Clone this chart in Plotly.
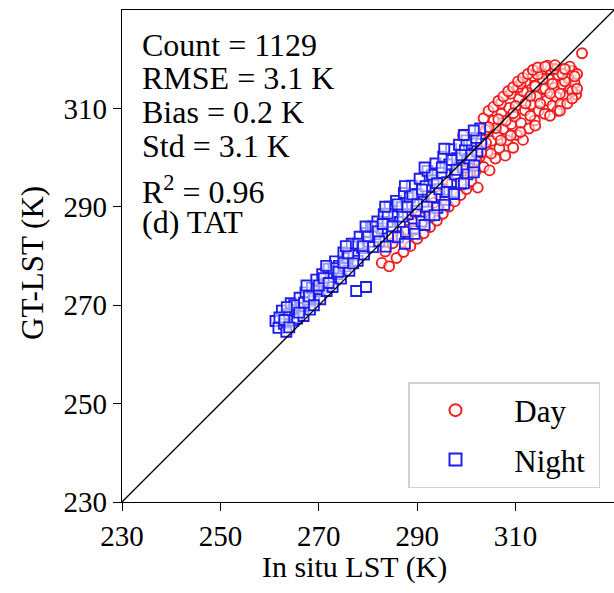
import plotly.graph_objects as go

# ---------------- data ----------------
day_x = [282.8, 283.5, 284.3, 285.0, 285.8, 286.5, 287.2, 288.0, 288.6, 289.3,
         290.0, 290.6, 291.3, 292.0, 292.6, 293.3, 294.0, 294.6, 295.2, 295.8,
         296.4, 297.0, 297.6, 298.2, 298.8, 299.3, 299.5, 300.0, 300.5, 301.0,
         301.5, 301.9, 302.3, 302.7, 303.1, 303.5, 303.9, 304.3, 304.7, 305.1,
         305.5, 305.9, 306.3, 306.7, 307.1, 307.5, 307.9, 308.3, 308.7, 309.1,
         309.5, 309.9, 310.3, 310.7, 311.1, 311.5, 311.9, 312.3, 312.7, 313.1,
         313.5, 313.9, 314.3, 314.7, 315.1, 315.5, 315.9, 316.3, 316.7, 317.1,
         317.5, 317.9, 318.3, 318.7, 319.1, 319.5, 319.9, 320.3, 320.7, 321.1,
         321.6, 322.0, 322.3, 323.5,
         300.8, 302.0, 303.0, 304.0, 305.0, 306.0, 307.0, 308.0, 309.0, 310.0,
         311.0, 312.0, 313.0, 314.0, 315.0, 316.0, 317.0, 318.0, 319.0, 320.0,
         321.0, 309.5, 311.5, 313.0, 315.5, 317.5, 319.5, 306.5, 304.5, 312.0,
         310.5, 316.5, 314.5, 309.0, 307.0, 311.0, 314.0, 318.5, 321.5, 322.5,
         303.5, 304.5, 305.5, 306.5, 307.5, 308.5, 309.5, 310.5, 311.5, 312.5,
         313.5, 314.5, 316.0, 318.0, 320.0, 322.0, 320.5, 321.5, 322.5, 319.0,
         317.0]
day_y = [278.6, 280.9, 277.9, 282.6, 279.6, 284.1, 280.8, 285.3, 282.0, 287.0,
         283.5, 288.2, 284.6, 289.4, 285.9, 290.8, 287.2, 292.3, 288.6, 293.4,
         290.0, 294.8, 291.1, 296.1, 292.4, 304.5, 297.3, 293.6, 299.0, 295.2,
         301.8, 297.3, 293.9, 300.1, 303.6, 298.1, 305.6, 301.2, 297.4, 303.4,
         307.5, 299.8, 304.6, 301.9, 308.9, 305.8, 300.4, 303.5, 310.1, 306.8,
         302.0, 308.3, 304.6, 311.9, 307.0, 303.6, 309.6, 313.2, 305.9, 310.8,
         316.6, 307.6, 312.4, 309.5, 317.2, 313.9, 308.9, 311.6, 316.0, 317.9,
         310.6, 314.2, 312.3, 316.8, 310.9, 314.9, 318.0, 312.6, 316.1, 314.0,
         317.6, 315.1, 312.8, 321.2,
         297.0, 299.5, 301.0, 303.0, 300.8, 306.0, 303.5, 307.5, 304.5, 310.5,
         305.2, 311.0, 308.5, 314.5, 311.0, 314.0, 313.0, 318.0, 313.0, 315.5,
         318.5, 309.0, 313.5, 312.5, 316.0, 315.0, 317.0, 307.8, 306.2, 315.5,
         314.3, 318.7, 316.9, 313.0, 311.0, 315.0, 306.5, 309.5, 313.5, 317.0,
         308.0, 309.5, 310.3, 311.5, 312.4, 313.5, 314.3, 315.5, 316.2, 317.0,
         317.8, 318.3, 318.5, 318.8, 318.0, 316.5, 311.0, 312.0, 314.0, 309.5,
         308.5]

night_x = [261.2, 261.8, 262.5, 262.9, 263.4, 263.9, 264.3, 264.8, 265.2, 265.6,
           266.1, 266.5, 266.9, 267.3, 267.8, 268.2, 268.6, 269.0, 269.5, 269.9,
           270.3, 270.7, 271.1, 271.6, 272.0, 272.4, 272.8, 273.3, 273.7, 274.1,
           274.5, 275.0, 275.4, 275.8, 276.2, 276.7, 277.1, 277.6, 277.9, 278.3,
           278.8, 279.2, 279.6, 279.8, 280.2, 280.6, 281.0, 281.5, 281.9, 282.3,
           282.8, 283.2, 283.6, 284.0, 284.4, 284.9, 285.3, 285.7, 286.1, 286.5,
           286.9, 287.3, 287.7, 288.1, 288.5, 288.9, 289.3, 289.7, 290.1, 290.5,
           290.9, 291.3, 291.7, 292.1, 292.5, 292.9, 293.3, 293.7, 294.1, 294.5,
           294.9, 295.3, 295.7, 296.1, 296.5, 296.9, 297.3, 297.7, 298.1, 298.5,
           298.9, 299.3, 299.7, 300.2, 300.6, 301.1, 301.6, 302.2, 302.8, 303.0,
           262.0, 263.0, 264.0, 265.0, 266.0, 267.0, 268.0, 269.0, 270.0, 271.0,
           272.0, 273.0, 274.0, 275.0, 276.0, 277.0, 278.0, 279.0, 280.0, 281.0,
           282.0, 283.0, 284.0, 285.0, 286.0, 287.0, 288.0, 289.0, 290.0, 291.0,
           292.0, 293.0, 294.0, 295.0, 296.0, 297.0, 298.0, 299.0, 300.0, 301.0,
           302.0,
           287.5, 289.5, 291.5, 293.5, 295.5, 297.5, 299.5, 301.5,
           263.5, 267.5, 271.5, 275.5, 279.5, 283.5, 287.5, 291.5, 295.5, 299.5,
           301.5]
night_y = [266.8, 265.4, 268.9, 266.2, 264.6, 268.1, 270.4, 266.9, 269.0, 267.3,
           271.5, 269.4, 267.8, 272.6, 270.7, 269.1, 273.5, 271.4, 275.2, 272.8,
           271.2, 276.3, 274.0, 272.9, 277.4, 275.6, 273.7, 278.9, 276.3, 278.0,
           275.4, 280.7, 277.9, 279.6, 277.0, 282.5, 280.1, 272.9, 279.0, 283.9,
           281.6, 280.3, 273.7, 284.7, 282.9, 285.9, 281.8, 284.4, 287.0, 283.0,
           285.6, 288.5, 281.9, 286.9, 290.0, 284.1, 288.1, 291.2, 283.8, 286.9,
           289.9, 292.8, 284.9, 288.5, 291.9, 294.3, 285.6, 289.2, 292.6, 295.7,
           287.0, 291.0, 294.2, 297.3, 288.2, 292.0, 295.4, 298.8, 289.8, 293.6,
           296.9, 300.2, 291.4, 295.0, 298.6, 301.7, 293.0, 296.6, 299.9, 302.6,
           294.7, 298.0, 301.5, 296.6, 299.8, 302.9, 298.4, 301.3, 305.9, 302.8,
           267.5, 267.0, 265.5, 270.0, 268.5, 270.5, 271.8, 270.0, 274.0, 275.5,
           274.5, 277.5, 276.8, 278.6, 280.5, 278.5, 282.5, 282.0, 284.0, 286.0,
           285.0, 286.5, 288.6, 286.0, 290.5, 288.0, 290.0, 292.5, 290.5, 293.5,
           290.0, 296.5, 294.8, 298.0, 293.0, 299.5, 297.5, 300.5, 303.5, 300.5,
           304.0,
           282.5, 284.5, 286.3, 288.3, 290.4, 292.6, 294.8, 297.0,
           269.6, 274.0, 278.0, 282.0, 286.0, 290.0, 294.2, 298.0, 301.8, 304.6,
           305.5]

one_to_one = [230, 330]
tick_vals = [230, 250, 270, 290, 310]
stats_lines = ["Count = 1129", "RMSE = 3.1 K", "Bias = 0.2 K", "Std = 3.1 K",
               "R<sup>2</sup> = 0.96", "(d) TAT"]
legend_names = ["Day", "Night"]

# ---------------- layout geometry ----------------
W, H = 614, 593
ML, MR, MT, MB = 122, 0, 10, 91
PH = H - MT - MB
PW = W - ML - MR
FONT = "Liberation Serif, Times New Roman, serif"
PAD = "\u00a0" * 5
TAIL = "\u00a0"


def py2paper(py):
    return (H - MB - py) / PH


def px2paper(px):
    return (px - ML) / PW


fig = go.Figure()
fig.add_trace(go.Scatter(
    x=day_x, y=day_y, mode="markers", name=PAD + legend_names[0] + TAIL,
    legendgroup="day",
    marker=dict(symbol="circle", size=10, color="rgba(255,255,255,0.55)",
                line=dict(color="rgb(240,30,30)", width=1.9)),
))
fig.add_trace(go.Scatter(
    x=night_x, y=night_y, mode="markers", name=PAD + legend_names[1] + TAIL,
    legendgroup="night",
    marker=dict(symbol="square", size=10, color="rgba(255,255,255,0.55)",
                line=dict(color="rgb(30,30,235)", width=1.9)),
))
fig.add_trace(go.Scatter(
    x=one_to_one, y=one_to_one, mode="lines", showlegend=False,
    line=dict(color="black", width=1.3), hoverinfo="skip",
))

axis_common = dict(
    range=[230, 330], tickvals=tick_vals, ticks="outside", ticklen=8,
    tickwidth=1.3, tickcolor="black", showline=True, linecolor="black",
    linewidth=1.3, mirror=True, showgrid=False, zeroline=False,
    tickfont=dict(family=FONT, size=29, color="black"),
)
fig.update_xaxes(**axis_common)
fig.update_yaxes(**axis_common)

annotations = []
text_centers = [45, 78, 112, 146, 190, 222]
for txt, cy in zip(stats_lines, text_centers):
    annotations.append(dict(
        text=txt, xref="paper", yref="paper", x=px2paper(140), y=py2paper(cy),
        xanchor="left", yanchor="middle", showarrow=False,
        font=dict(family=FONT, size=32, color="black"),
    ))
annotations.append(dict(
    text="In situ LST (K)", xref="paper", yref="paper",
    x=px2paper(354), y=py2paper(567), xanchor="center", yanchor="middle",
    showarrow=False, font=dict(family=FONT, size=30, color="black"),
))
annotations.append(dict(
    text="GT-LST (K)", xref="paper", yref="paper", textangle=-90,
    x=px2paper(32), y=py2paper(263), xanchor="center", yanchor="middle",
    showarrow=False, font=dict(family=FONT, size=31, color="black"),
))

fig.update_layout(
    width=W, height=H,
    margin=dict(l=ML, r=MR, t=MT, b=MB),
    paper_bgcolor="white", plot_bgcolor="white",
    font=dict(family=FONT, color="black"),
    annotations=annotations,
    showlegend=True,
    legend=dict(
        x=px2paper(600), y=py2paper(488), xanchor="right", yanchor="bottom",
        bgcolor="white", bordercolor="rgb(210,210,210)", borderwidth=1.5,
        font=dict(family=FONT, size=31, color="black"),
        itemsizing="constant", traceorder="grouped", tracegroupgap=6,
        indentation=26,
    ),
)

fig.write_html(
    "out.html",
    config={"displayModeBar": False},
    post_script="document.body.style.margin='0px';document.body.style.overflow='hidden';",
)
